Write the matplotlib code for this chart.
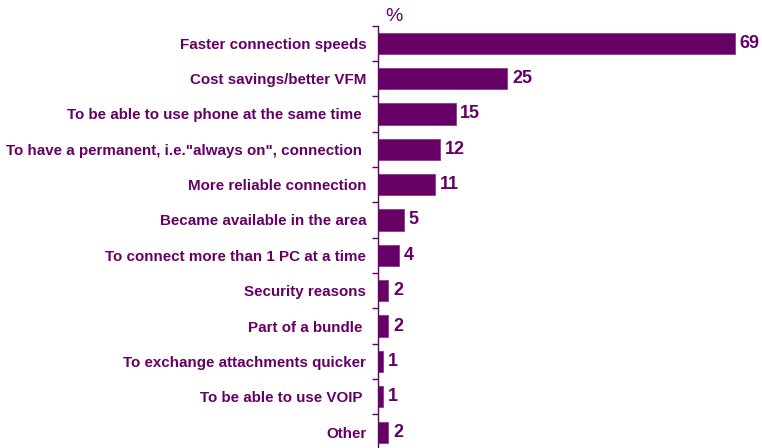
import matplotlib.pyplot as plt
import numpy as np

# Reasons for switching to broadband, % of respondents
reasons = [
    'Faster connection speeds',
    'Cost savings/better VFM',
    'To be able to use phone at the same time ',
    'To have a permanent, i.e."always on", connection ',
    'More reliable connection',
    'Became available in the area',
    'To connect more than 1 PC at a time',
    'Security reasons',
    'Part of a bundle ',
    'To exchange attachments quicker',
    'To be able to use VOIP ',
    'Other',
]
percent = [69, 25, 15, 12, 11, 5, 4, 2, 2, 1, 1, 2]

purple = '#660066'
plt.rcParams['font.family'] = ['Liberation Sans', 'DejaVu Sans']

fig = plt.figure(figsize=(7.62, 4.48), dpi=100)
ax = fig.add_axes([0.496, -0.004, 0.509, 0.947])

y = np.arange(len(reasons))
ax.barh(y, percent, height=0.6, color=purple, edgecolor='#8a3a8a', linewidth=0.6)
ax.set_ylim(len(reasons) - 0.5, -0.5)
ax.set_xlim(0, 75)

# value labels at bar ends
for yi, v in zip(y, percent):
    ax.text(v + 0.9, yi, str(v), va='center', ha='left', fontsize=13,
            fontweight='bold', color=purple)

# category labels to the left of the axis
ax.set_yticks(y)
ax.set_yticklabels(reasons, fontsize=10.9, fontweight='bold', color=purple)
ax.tick_params(axis='y', which='major', length=0, pad=8.5)
ax.set_yticks(np.arange(-0.5, len(reasons), 1), minor=True)
ax.tick_params(axis='y', which='minor', length=4, width=1, color=purple,
               direction='out')

ax.set_xticks([])
for side in ['top', 'right', 'bottom']:
    ax.spines[side].set_visible(False)
ax.spines['left'].set_color(purple)
ax.spines['left'].set_linewidth(1)

fig.text(0.505, 0.963, '%', fontsize=14, color=purple, ha='left', va='center')

fig.savefig('out.png', dpi=100)
